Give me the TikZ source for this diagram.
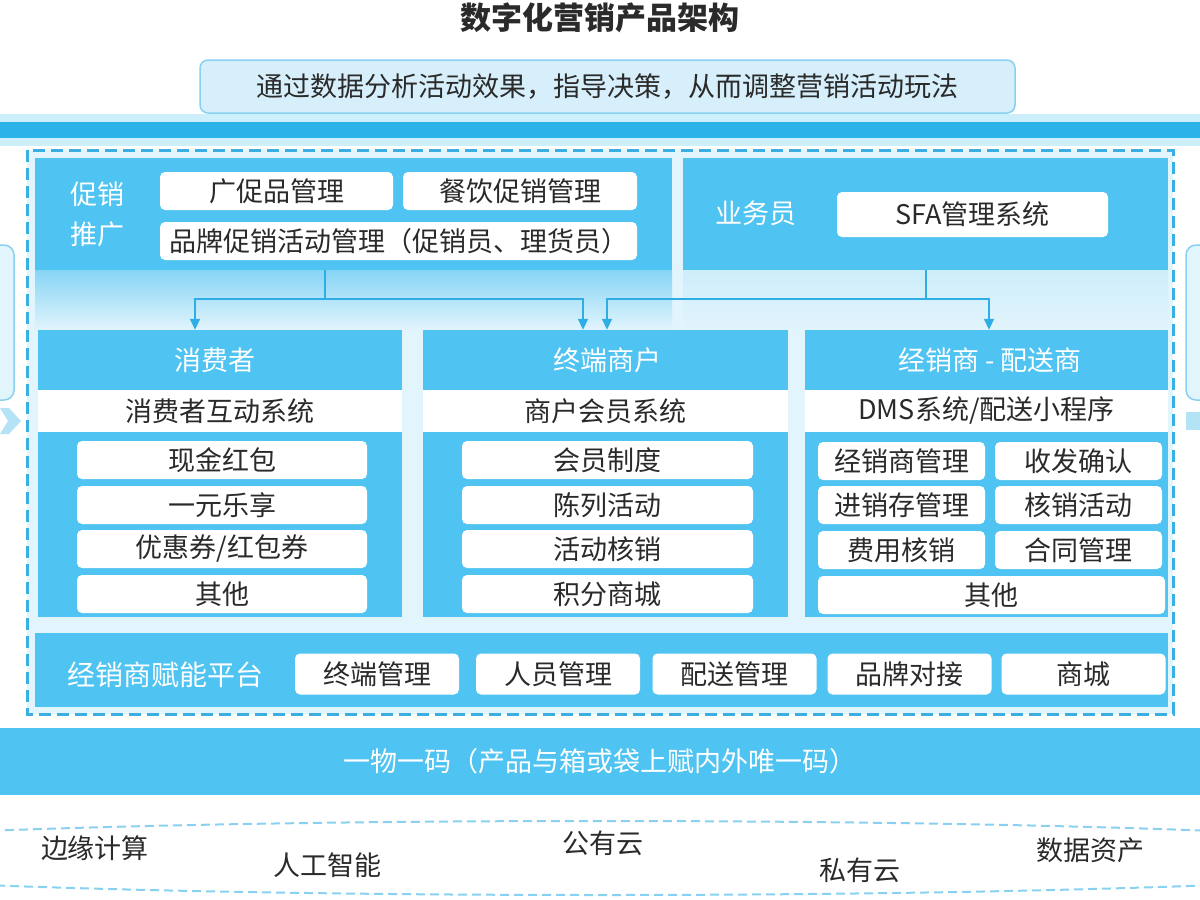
\documentclass[tikz,border=0pt]{standalone}
\usepackage{fontspec}
\setmainfont{Noto Sans CJK SC}
\usetikzlibrary{arrows.meta}

\definecolor{pblue}{HTML}{4FC3F1}
\definecolor{dblue}{HTML}{2BB2E8}
\definecolor{lblue}{HTML}{E2F4FC}
\definecolor{sblue}{HTML}{86D5F5}
\definecolor{glow}{HTML}{CDEEFB}
\definecolor{lnblue}{HTML}{2EAEE4}
\definecolor{dashblue}{HTML}{3BAEE2}
\definecolor{bfill}{HTML}{D6EFFA}
\definecolor{bdraw}{HTML}{88D1F0}
\definecolor{deco}{HTML}{B5E3F6}
\definecolor{ink}{HTML}{2A2A2A}

\newcommand\txt{\fontsize{27}{29}\selectfont}

\begin{document}
\begin{tikzpicture}[x=1pt,y=-1pt,
  panel/.style={fill=pblue,draw=none,inner sep=0pt},
  wbox/.style={fill=white,rounded corners=5pt,inner sep=0pt,minimum height=38pt,font=\txt,text=ink},
  strip/.style={fill=white,inner sep=0pt,minimum height=42pt,font=\txt,text=ink},
  wlabel/.style={text=white,font=\txt,inner sep=0pt},
  wire/.style={draw=lnblue,line width=1.5pt},
  link/.style={wire,-{Triangle[width=10pt,length=11pt]}}]
\useasboundingbox (0,0) rectangle (1200,900);

% title and goal
\node[font=\fontsize{31}{33}\selectfont\bfseries,text=ink] (title) at (600,18) {数字化营销产品架构};
\node[fill=bfill,draw=bdraw,line width=1.5pt,rounded corners=8pt,minimum width=815pt,minimum height=53pt,font=\txt,text=ink] (goal) at (607.5,86.5) {通过数据分析活动效果，指导决策，从而调整营销活动玩法};
\fill[glow] (0,114) rectangle (1200,146);
\fill[dblue] (0,122) rectangle (1200,138);

% side decorations
\draw[fill=lblue,draw=bdraw,line width=1.5pt,rounded corners=10pt] (-20,245) rectangle (14,400);
\fill[deco] (0,408) -- (9,408) -- (21,421) -- (9,434) -- (0,434) -- (8,421) -- cycle;
\draw[fill=lblue,draw=bdraw,line width=1.5pt,rounded corners=10pt] (1186,245) rectangle (1220,400);
\fill[deco] (1186,412) rectangle (1200,430);

% dashed frame
\fill[lblue] (27,150) rectangle (1173,714);
\shade[top color=sblue,bottom color=lblue] (35,270) rectangle (672,330);
\shade[top color=glow,bottom color=lblue] (683,270) rectangle (1168,330);
\draw[dashblue,line width=3pt,dash pattern=on 12pt off 6pt] (27,150) rectangle (1173,714);

% promotion
\node[panel,minimum width=637pt,minimum height=112pt] (promo) at (353.5,214) {};
\node[wlabel,align=center,font=\fontsize{27}{40}\selectfont] (promolbl) at (97,214) {促销\\推广};
\node[wbox,minimum width=233pt] (gift) at (276.5,191) {广促品管理};
\node[wbox,minimum width=234pt] (food) at (520,191) {餐饮促销管理};
\node[wbox,minimum width=477pt] (brand) at (398.5,241) {品牌促销活动管理（促销员、理货员）};

% salesman
\node[panel,minimum width=485pt,minimum height=112pt] (sales) at (925.5,214) {};
\node[wlabel] (saleslbl) at (756,213) {业务员};
\node[wbox,minimum width=271pt,minimum height=45pt] (sfa) at (972.5,214.5) {SFA管理系统};

% columns
\node[panel,minimum width=364pt,minimum height=287pt] (cons) at (220,473.5) {};
\node[panel,minimum width=365pt,minimum height=287pt] (term) at (605.5,473.5) {};
\node[panel,minimum width=363pt,minimum height=287pt] (dist) at (986.5,473.5) {};

\node[wlabel] (conshd) at (215,360) {消费者};
\node[wlabel] (termhd) at (607,360) {终端商户};
\node[wlabel] (disthd) at (990,360) {经销商 - 配送商};

\node[strip,minimum width=364pt] (conssys) at (220,411) {消费者互动系统};
\node[strip,minimum width=365pt] (termsys) at (605.5,411) {商户会员系统};
\node[strip,minimum width=363pt] (distsys) at (986.5,411) {DMS系统/配送小程序};

\foreach \n/\y/\t in {c1/460/现金红包, c2/505/一元乐享, c3/549/{优惠券/红包券}, c4/594/其他}
  \node[wbox,minimum width=290pt] (\n) at (222,\y) {\t};
\foreach \n/\y/\t in {m1/460/会员制度, m2/505/陈列活动, m3/549/活动核销, m4/594/积分商城}
  \node[wbox,minimum width=291pt] (\n) at (607.5,\y) {\t};
\foreach \n/\y/\a/\b in {d1/461/经销商管理/收发确认, d2/505/进销存管理/核销活动, d3/550/费用核销/合同管理}{
  \node[wbox,minimum width=167pt] (\n a) at (901.5,\y) {\a};
  \node[wbox,minimum width=167pt] (\n b) at (1078.5,\y) {\b};
}
\node[wbox,minimum width=347pt] (d4) at (991.5,595) {其他};

% links
\coordinate (jl) at (325,299);
\coordinate (jr) at (926,299);
\coordinate (a1) at (195,0);
\coordinate (a2) at (583,0);
\coordinate (a3) at (607,0);
\coordinate (a4) at (989,0);
\draw[wire] (promo.south -| jl) -- (jl);
\draw[link] (jl) -| (cons.north -| a1);
\draw[link] (jl) -| (term.north -| a2);
\draw[wire] (sales.south -| jr) -- (jr);
\draw[link] (jr) -| (term.north -| a3);
\draw[link] (jr) -| (dist.north -| a4);

% enabling platform
\node[panel,minimum width=1133pt,minimum height=74pt] (plat) at (601.5,670) {};
\node[wlabel,font=\fontsize{28}{30}\selectfont] (platlbl) at (165,675) {经销商赋能平台};
\foreach \n/\x/\t in {p1/377/终端管理, p2/558/人员管理, p3/734.5/配送管理, p4/909.5/品牌对接, p5/1083.5/商城}
  \node[wbox,minimum width=164pt,minimum height=41pt] (\n) at (\x,674) {\t};

% one item one code
\node[panel,minimum width=1200pt,minimum height=67pt,text=white,font=\txt] (code) at (600,761.5) {一物一码（产品与箱或袋上赋内外唯一码）};

% base
\draw[bdraw,line width=2pt,dash pattern=on 9pt off 5pt] (600,858) ellipse [x radius=900, y radius=37];
\node[font=\txt,text=ink] (edge) at (95,848) {边缘计算};
\node[font=\txt,text=ink] (ai) at (327,865) {人工智能};
\node[font=\txt,text=ink] (pub) at (603,843) {公有云};
\node[font=\txt,text=ink] (priv) at (860,870) {私有云};
\node[font=\txt,text=ink] (data) at (1090,850) {数据资产};
\end{tikzpicture}
\end{document}
